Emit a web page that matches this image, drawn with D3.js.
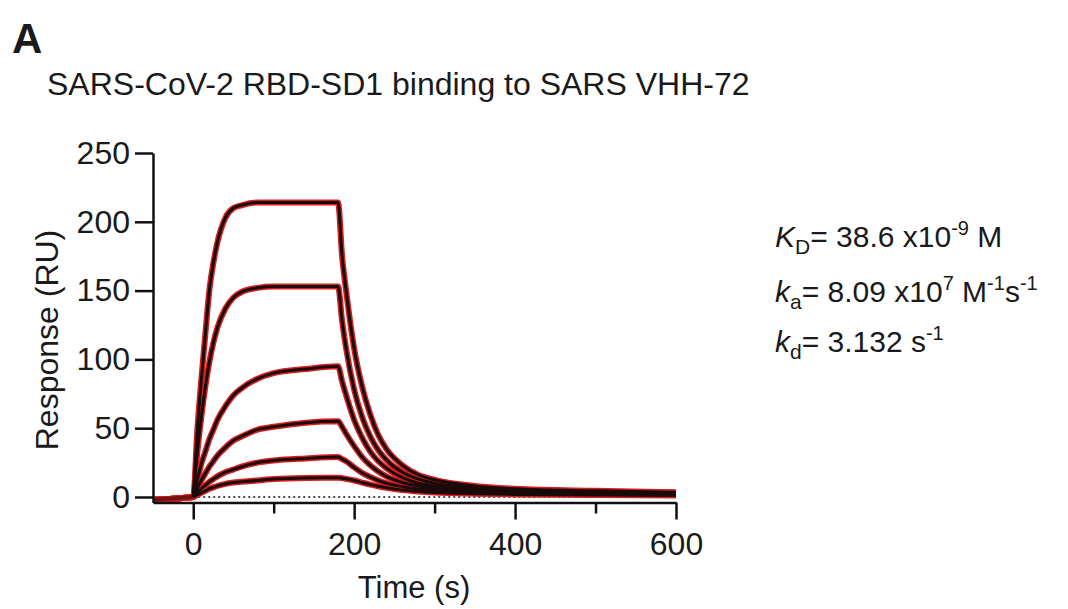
<!DOCTYPE html>
<html>
<head>
<meta charset="utf-8">
<script src="https://cdn.jsdelivr.net/npm/d3@7"></script>
<style>
  body { margin: 0; background: #fff; }
  text { font-family: "Liberation Sans", Arial, sans-serif; fill: #1a1a1a; }
</style>
</head>
<body>
<div id="chart"></div>
<script>
// sample times (s) shared by every curve
var times = [-50, 0, 5, 10, 15, 20, 25, 30, 40, 50, 60, 80, 100, 140, 180,
             185, 190, 200, 210, 220, 230, 240, 260, 280, 300, 350, 400, 500, 600];

// response (RU) for the six analyte concentrations
var conc1 = [-2, 0, 48, 85, 118, 150, 170, 185, 203, 210, 212, 214, 214, 214, 214,
             175, 150, 108, 80, 60, 45, 35, 23, 16, 12.5, 8, 6, 4.5, 3.5];
var conc2 = [-2, 0, 32, 58, 80, 98, 112, 123, 137, 145, 149, 152, 153, 153, 153,
             128, 108, 78, 58, 44, 34, 27, 18, 13, 10, 6.5, 5, 3.8, 3];
var conc3 = [-2, 0, 12, 24, 33, 42, 49, 56, 66, 74, 79, 86, 90, 93, 95,
             84, 74, 56, 43, 33, 26, 21, 14, 10, 8, 5, 4, 3, 2.5];
var conc4 = [-2, 0, 6, 12, 17, 22, 26, 30, 36, 41, 44, 49, 51, 54, 55,
             51, 46, 37, 29, 23, 18.5, 15, 10.5, 8, 6.5, 4.5, 3.5, 2.5, 2];
var conc5 = [-2, 0, 3, 6, 8.5, 11, 13, 15, 18, 20, 22, 25, 26.5, 28, 29,
             27.5, 26, 21.5, 17.5, 14.5, 12, 10, 7.5, 5.8, 4.8, 3.3, 2.6, 2, 1.5];
var conc6 = [-2, 0, 1.5, 3, 4.5, 6, 7, 8, 9.5, 10.5, 11, 12, 13, 13.8, 14,
             13.7, 13.2, 12, 10.5, 9, 7.8, 6.7, 5, 4, 3.3, 2.4, 1.9, 1.4, 1.1];

var yTicks = [0, 50, 100, 150, 200, 250];
var xMajor = [0, 200, 400, 600];
var xMinor = [100, 300, 500];

var series = [conc1, conc2, conc3, conc4, conc5, conc6];

var svgWidth = 1068, svgHeight = 609;

var svg = d3.select("#chart").append("svg")
    .attr("width", svgWidth)
    .attr("height", svgHeight);

var xScale = d3.scaleLinear().domain([-50, 600]).range([153, 676]);
var yScale = d3.scaleLinear().domain([-4, 250]).range([502.5, 153]);

// panel letter and title
svg.append("text")
    .attr("x", 12).attr("y", 53)
    .attr("font-size", 42).attr("font-weight", "bold")
    .text("A");

svg.append("text")
    .attr("x", 47).attr("y", 95)
    .attr("font-size", 32)
    .text("SARS-CoV-2 RBD-SD1 binding to SARS VHH-72");

// curves: red measured data underneath, black fit on top
var line = d3.line()
    .x(function(d) { return xScale(d[0]); })
    .y(function(d) { return yScale(d[1]); })
    .curve(d3.curveMonotoneX);

var pts = series.map(function(s) {
    return times.map(function(t, i) { return [t, s[i]]; });
});

// dotted zero line
svg.append("line")
    .attr("x1", xScale(0)).attr("x2", xScale(600))
    .attr("y1", yScale(0)).attr("y2", yScale(0))
    .attr("stroke", "#111").attr("stroke-width", 1.5)
    .attr("stroke-dasharray", "2,3");

svg.append("g").selectAll("path")
    .data(pts)
    .enter().append("path")
    .attr("d", line)
    .attr("fill", "none")
    .attr("stroke", "#d81e1e")
    .attr("stroke-width", 6)
    .attr("stroke-linejoin", "round");

// pre-injection baseline looks dark where the traces pile up
svg.append("path")
    .attr("d", line(pts[0].slice(0, 2)))
    .attr("fill", "none")
    .attr("stroke", "#6e1414")
    .attr("stroke-width", 4);

svg.append("g").selectAll("path")
    .data(pts.map(function(p) { return p.filter(function(d) { return d[0] >= 0; }); }))
    .enter().append("path")
    .attr("d", line)
    .attr("fill", "none")
    .attr("stroke", "#1a0a0a")
    .attr("stroke-width", 3)
    .attr("stroke-linejoin", "round");

// axes
var leftAxis = d3.axisLeft(yScale).tickValues(yTicks).tickSize(18).tickSizeOuter(0).tickPadding(5);
var bottomAxis = d3.axisBottom(xScale).tickValues(xMajor).tickSize(17).tickSizeOuter(0).tickPadding(13);
var minorAxis = d3.axisBottom(xScale).tickValues(xMinor).tickSize(11).tickSizeOuter(0).tickFormat("");

var yAxisG = svg.append("g")
    .attr("transform", "translate(" + xScale(-50) + ",0)")
    .call(leftAxis);

var xAxisG = svg.append("g")
    .attr("transform", "translate(0," + yScale(-4) + ")")
    .call(bottomAxis);

svg.append("g")
    .attr("transform", "translate(0," + yScale(-4) + ")")
    .call(minorAxis)
    .select(".domain").remove();

[yAxisG, xAxisG].forEach(function(g) {
    g.selectAll("path, line").attr("stroke", "#111").attr("stroke-width", 2.5);
    g.selectAll("text").attr("font-size", 32).attr("fill", "#1a1a1a")
        .attr("font-family", "Liberation Sans, Arial, sans-serif");
});
svg.selectAll("g line").attr("stroke", "#111").attr("stroke-width", 2.5);

// axis titles
svg.append("text")
    .attr("transform", "translate(58,340)rotate(-90)")
    .attr("text-anchor", "middle")
    .attr("font-size", 32)
    .text("Response (RU)");

svg.append("text")
    .attr("x", 414).attr("y", 598)
    .attr("text-anchor", "middle")
    .attr("font-size", 31)
    .text("Time (s)");

// kinetic constants
var notes = svg.append("g").attr("font-size", 30);

var t1 = notes.append("text").attr("x", 775).attr("y", 247);
t1.append("tspan").attr("font-style", "italic").text("K");
t1.append("tspan").attr("font-size", 21).attr("dy", 7).text("D");
t1.append("tspan").attr("dy", -7).text("= 38.6 x10");
t1.append("tspan").attr("font-size", 20).attr("dy", -12).text("-9");
t1.append("tspan").attr("dy", 12).text(" M");

var t2 = notes.append("text").attr("x", 775).attr("y", 302);
t2.append("tspan").attr("font-style", "italic").text("k");
t2.append("tspan").attr("font-size", 21).attr("dy", 7).text("a");
t2.append("tspan").attr("dy", -7).text("= 8.09 x10");
t2.append("tspan").attr("font-size", 20).attr("dy", -12).text("7");
t2.append("tspan").attr("dy", 12).text(" M");
t2.append("tspan").attr("font-size", 20).attr("dy", -12).text("-1");
t2.append("tspan").attr("dy", 12).text("s");
t2.append("tspan").attr("font-size", 20).attr("dy", -12).text("-1");

var t3 = notes.append("text").attr("x", 775).attr("y", 352);
t3.append("tspan").attr("font-style", "italic").text("k");
t3.append("tspan").attr("font-size", 21).attr("dy", 7).text("d");
t3.append("tspan").attr("dy", -7).text("= 3.132 s");
t3.append("tspan").attr("font-size", 20).attr("dy", -12).text("-1");
</script>
</body>
</html>
